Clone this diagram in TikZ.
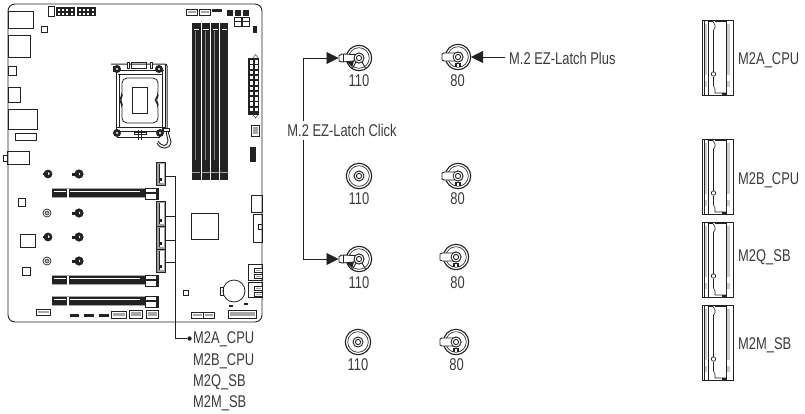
\documentclass[tikz,border=0pt]{standalone}
\usepackage{fontspec}
\setmainfont[FakeStretch=0.76]{Liberation Sans}
\usetikzlibrary{arrows.meta}
\definecolor{ink}{HTML}{222222}
\definecolor{txt}{HTML}{3A3A3A}
\newcommand{\Bx}[4]{\draw[part] (#1,#2) rectangle (#3,#4);}
\newcommand{\Bk}[4]{\fill[ink] (#1,#2) rectangle (#3,#4);}
\newcommand{\Hd}[4]{\draw[part,fill=white] (#1,#2) rectangle (#3,#4);
  \fill[gray!70] (#1+1.5,#2+2.2) rectangle (#3-1.5,#4-2.2);}
\tikzset{
  x=1pt,y=-1pt,
  part/.style={draw=ink,line width=.75pt},
  lead/.style={draw=ink,line width=.8pt},
  tip/.style={-{Triangle[length=12pt,width=12pt]}},
  lab/.style={text=txt,font=\fontsize{17}{20}\selectfont,inner sep=0pt},
  pics/ringbase/.style={code={
    \draw[ink,line width=1.1pt,fill=white] (0,0) circle (12.7);
    \draw[ink,line width=.6pt] (0,0) circle (10.3);
    \draw[ink,line width=.9pt] (0,0) circle (5);
    \draw[ink,line width=.9pt] (0,0) circle (2.6);
  }},
  pics/latchlong/.style={code={
    \pic {ringbase};
    \draw[ink,line width=.9pt,fill=white] (-4,-3.5) -- (-17,-4) -- (-20,-2.5) -- (-20,3) -- (-17,4) -- (-5,3) -- cycle;
    \draw[ink,line width=.9pt] (-16,-4) -- (-16,4);
    \draw[ink,line width=.8pt,fill=white] (0,0) circle (5);
    \draw[ink,line width=.9pt] (0,0) circle (2.6);
    \draw[ink,line width=.9pt] (-3,4) -- (-7,11) (3,4) -- (7,11);
    \fill[ink] (-12,4) -- (-5,3) -- (-7,9) -- cycle;
  }},
  pics/latchshort/.style={code={
    \pic {ringbase};
    \draw[ink,line width=.9pt,fill=white] (-3,-4) -- (-14,-4) -- (-16,-3) -- (-16,3) -- (-14,4) -- (-3,4) -- cycle;
    \draw[ink,line width=.8pt,fill=white] (0,0) circle (5);
    \draw[ink,line width=.9pt] (0,0) circle (2.6);
    \fill[ink] (-3,5.5) rectangle (3,10);
    \fill[white] (-.6,6.5) rectangle (.6,10);
  }},
  pics/m2slot/.style={code={
    \draw[ink,line width=.9pt] (0,0) rectangle (31.5,75);
    \draw[ink,line width=.6pt] (2,0) -- (2,75) (5.8,0) -- (5.8,75) (24.5,2) -- (24.5,75);
    \fill[gray!40] (2.5,4) rectangle (5.2,55);
    \fill[gray!40] (2.5,61) rectangle (5.2,67);
    \fill[gray!40] (25.2,4) rectangle (28.4,55);
    \fill[gray!40] (25.2,61) rectangle (28.4,67);
    \draw[ink,line width=.6pt] (5.8,1.5) -- (11,1.5) -- (13,5) -- (13,8) -- (11.5,10) -- (11.5,52);
    \draw[ink,line width=.7pt] (11.5,54) circle (2.2);
    \draw[ink,line width=.6pt] (11.5,57) -- (11.5,66) -- (13,69) -- (13,73) -- (24.5,73);
    \draw[ink,line width=.6pt] (13,1.5) -- (24.5,1.5);
    \fill[ink] (20,73) rectangle (24,75);
  }},
  pics/pcie/.style={code={
    \fill[ink] (0,0) rectangle (93,10);
    \fill[gray!70] (0,0) rectangle (93,1.2);
    \fill[gray!70] (0,9) rectangle (93,10);
    \draw[white,line width=.5pt] (2,3) -- (14,3) (18,3) -- (88,3);
    \fill[white] (14.5,0.5) rectangle (16.5,9.5);
    \draw[part,fill=white] (93,0) rectangle (106,11);
    \draw[ink,line width=1.3pt] (93,5) -- (106,5);
    \fill[ink] (104,0) rectangle (107,11);
  }},
  pics/standoff/.style={code={
    \fill[ink] (0,0) circle (4.6);
    \fill[white] (0,0) circle (1.4);
    \fill[ink] (-7,-1.2) rectangle (0,1.6);
  }},
  pics/hole/.style={code={
    \draw[ink,line width=.7pt] (0,0) circle (4);
    \fill[ink!70] (0,0) circle (2.4);
    \fill[white] (0,0) circle (.8);
  }},
  pics/holeb/.style={code={
    \fill[ink] (0,0) circle (4.4);
    \fill[white] (.4,-.4) circle (1.3);
    \fill[ink] (-5.5,-.8) rectangle (0,1.2);
  }},
}
\begin{document}
\begin{tikzpicture}
\useasboundingbox (0,0) rectangle (805,413);
% board
\draw[ink,line width=.9pt,rounded corners=7pt] (8,4) rectangle (262,322);
% io
\Bx{8}{11}{33}{28}\Bx{8}{35}{30}{57}\Bx{8}{66}{16}{75}\Bx{8}{87}{20}{102}
\Bx{8}{109}{37}{129}\Bx{15}{133}{36}{140}\Bx{7}{151}{29}{164}\Bx{3.5}{155}{7}{161}
\Bx{41}{26}{47}{32}
% top headers
\Bx{48}{6}{54}{16}
\foreach \a in {56,77}{
  \Bk{\a}{7}{\a+19}{16}
  \foreach \i in {0,1,2,3}{\fill[white] (\a+2+\i*4.2,9) rectangle (\a+4+\i*4.2,11);
    \fill[white] (\a+2+\i*4.2,12.5) rectangle (\a+4+\i*4.2,14.5);}
}
\Hd{186}{9}{197}{15}\Hd{199}{9}{210}{15}\Bk{212}{9}{222}{11.5}
\Bk{227}{10}{233}{16}\Bk{235}{10}{241}{16}\Bk{243}{10}{249}{16}
\Bx{234}{17}{241}{26}\Bx{242}{17}{249}{26}
\draw[ink,line width=.5pt] (234,21.5) -- (249,21.5);
\Bk{253}{26}{257}{33}
% DIMM
\foreach \a/\b in {192/200.5,201.5/210,211/219,220/228}{
  \Bk{\a}{23}{\b}{180}
  \draw[white,line width=.8pt] (\a+1.5,29) -- (\b-1.5,29);
}
\foreach \a in {195.5,205,214.5}{\draw[gray,line width=.4pt] (\a,31) -- (\a,160);}
\foreach \a in {192,201.5,211,220}{\fill[gray!70] (\a,172) rectangle (\a+8,173);}
% ATX
\Bk{248}{58}{259}{115}
\foreach \i in {0,...,9}{
  \fill[white] (250,60+\i*5.3) rectangle (253,63.5+\i*5.3);
  \fill[white] (254.5,60+\i*5.3) rectangle (257.5,63.5+\i*5.3);}
\draw[ink] (253,58) -- (255.5,54.5) -- (258,58);
\draw[ink] (253,115) -- (255.5,118) -- (258,115);
\Hd{251}{125}{259}{136}
\Bk{250}{147}{256}{162}
% CPU
\draw[ink,line width=1pt] (113.5,66) -- (113.5,72) (116,68) -- (116,132) (119,75) -- (119,128) (162,70) -- (162,130) (165,64) -- (165,130);
\draw[ink,line width=1pt,rounded corners=2pt] (111,64) -- (167,64) -- (167,128);
\draw[ink,line width=.8pt] (116,70) -- (164,70) (118,74) -- (162,74);
\draw[ink,line width=.8pt] (117,127) -- (165,127) (117,131) -- (165,131) (117,137) -- (160,137);
\draw[ink,line width=.8pt] (131,62) rectangle (146,68);
\draw[ink,line width=.8pt,fill=white] (127,62) rectangle (129,68) (150,62) rectangle (152,68);
\draw[ink,line width=.8pt,rounded corners=5pt] (122,78) -- (158,78) -- (158,96) -- (155,100) -- (158,104) -- (158,123) -- (122,123) -- (122,104) -- (119.5,100) -- (122,96) -- cycle;
\draw[ink,line width=.8pt] (132,87) rectangle (147,113);
\foreach \a/\b in {117/69,159/69,117/133,160/133}{\fill[ink] (\a,\b) circle (4); \fill[white] (\a,\b) circle (1.2);}
\draw[ink,line width=.8pt,fill=white] (134,132) rectangle (146,134);
\draw[ink,line width=1pt] (138,130) -- (138,140) (141,130) -- (141,140);
\draw[ink,line width=.8pt,fill=white] (163,128) rectangle (169,131);
\draw[ink,line width=.9pt] (157,143) .. controls (160,150) and (170,150) .. (171,142) -- (168,131);
\draw[ink,line width=.9pt] (158,141) .. controls (162,147) and (167,147) .. (168,141) -- (166,131);
% standoffs on board
\pic at (48,174) {holeb};\pic at (79,174) {standoff};
\pic at (47,213) {hole};\pic at (79,213) {standoff};
\pic at (48,237) {holeb};\pic at (79,237) {standoff};
\pic at (47,261) {hole};\pic at (79,261) {standoff};
\Bx{18}{198}{25}{206}\Bx{20.5}{234}{35}{247}\Bx{22.5}{267}{30}{275}
% PCIe
\pic at (52,188) {pcie};\pic at (52,275) {pcie};\pic at (52,296) {pcie};
% M.2 sockets
\foreach \n/\t/\b in {sa/162/185,sb/201/226,sq/226/249,sm/249/272}{
  \fill[gray!75] (156,\t) rectangle (166,\b);
  \draw[ink,line width=.8pt] (156.5,\t) rectangle (165.5,\b);
  \fill[white] (158.5,\t+2) rectangle (163.5,\b-2);
  \draw[ink,line width=1pt] (159.5,\t+2) -- (159.5,\b-2);
  \fill[ink] (160,\b-7) rectangle (162,\b-4);
}
\coordinate (sa) at (166,176.5);\coordinate (sb) at (166,216);
\coordinate (sq) at (166,240);\coordinate (sm) at (166,262);
% lower board
\Bx{191}{213}{218}{239}
\Bx{251}{195}{262}{212}\Bx{253}{214}{262}{242}
\draw[ink,line width=.7pt] (258,224) rectangle (262,229);
\Bx{248}{264}{262}{280}\Bx{248}{282}{262}{297}
\foreach \y in {268,286}{\Hd{254}{\y}{262}{\y+4}\Hd{254}{\y+6}{262}{\y+10}}
\draw[ink,line width=.8pt,fill=white] (234,291) circle (11);
\draw[ink,line width=.8pt] (223,287) rectangle (220,295);
\Bx{183}{290}{188}{295}
\Hd{36}{309}{50}{315}
\Bk{70}{313.5}{79}{316.5}\Bk{84}{313.5}{94}{316.5}\Bk{99}{313.5}{109}{316.5}
\Hd{111}{311}{126}{318}\Hd{129}{310}{142}{318}\Hd{146}{310}{158}{318}
\Hd{191}{312}{203}{318}\Hd{203}{312}{214}{318}
\Hd{228}{310}{256}{318}
\Bk{229}{305}{233}{307}\Bk{244}{302.5}{248}{305}
% callout
\node[circle,fill=ink,inner sep=0pt,minimum size=4.4pt] (dot) at (189.5,338.5) {};
\coordinate (bus) at (175.5,338.5);
\draw[lead] (sa) -| (bus) -- (dot);
\draw[lead] (sb) -- (sb -| bus);
\draw[lead] (sq) -- (sq -| bus);
\draw[lead] (sm) -- (sm -| bus);
\node[lab,anchor=west] (la) at (193,339.5) {M2A\_CPU};
\node[lab,anchor=west] (lb) at (193,361) {M2B\_CPU};
\node[lab,anchor=west] (lq) at (193,382) {M2Q\_SB};
\node[lab,anchor=west] (lm) at (193,403) {M2M\_SB};
% screw positions
\pic at (359,58) {latchlong};
\pic at (458,57) {latchshort};
\pic at (359,176) {ringbase};
\pic at (458,176) {latchshort};
\pic at (359,259) {latchlong};
\pic at (456,257) {latchshort};
\pic at (358,342) {ringbase};
\pic at (456,342) {latchshort};
\coordinate (tA) at (338.5,58);\coordinate (tC) at (338.5,259);\coordinate (tP) at (471,57);
\node[lab] at (359,80.5) {110};\node[lab] at (457.5,80.5) {80};
\node[lab] at (359,198.5) {110};\node[lab] at (457.5,198.5) {80};
\node[lab] at (359,282.5) {110};\node[lab] at (457.5,282.5) {80};
\node[lab] at (358,365) {110};\node[lab] at (456.5,365) {80};
\node[lab] (click) at (342,130.5) {M.2 EZ-Latch Click};
\node[lab,anchor=west] (plus) at (509,58.5) {M.2 EZ-Latch Plus};
\coordinate (kx) at (303,0);
\draw[lead,tip] (click.north -| kx) ++(0,-3) |- (tA);
\draw[lead,tip] (click.south -| kx) ++(0,3) |- (tC);
\draw[lead,tip] (plus.west) ++(-4,-1.5) -- (tP);
% M.2 slot pictures
\pic at (702,20) {m2slot};
\pic at (702,139) {m2slot};
\pic at (702,222) {m2slot};
\pic at (702,305) {m2slot};
\node[lab,anchor=west] at (738,60) {M2A\_CPU};
\node[lab,anchor=west] at (738,180) {M2B\_CPU};
\node[lab,anchor=west] at (738,257) {M2Q\_SB};
\node[lab,anchor=west] at (738,345) {M2M\_SB};
\end{tikzpicture}
\end{document}
